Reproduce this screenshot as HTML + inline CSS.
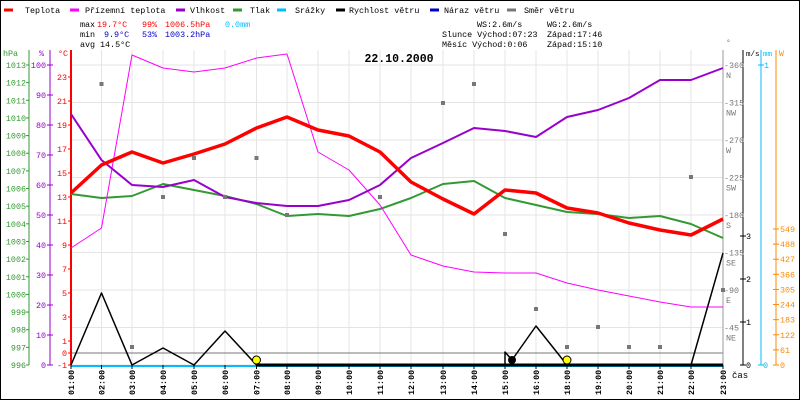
<!DOCTYPE html>
<html><head><meta charset="utf-8"><style>
html,body{margin:0;padding:0;background:#fff}
svg{display:block;font-family:"Liberation Mono","DejaVu Sans Mono",monospace}
</style></head><body>
<svg id="s" width="800" height="400" viewBox="0 0 800 400" xmlns="http://www.w3.org/2000/svg"></svg>
<script>
var s=document.getElementById('s'),h='';
function L(x1,y1,x2,y2,c,w){h+='<line x1="'+x1+'" y1="'+y1+'" x2="'+x2+'" y2="'+y2+'" stroke="'+c+'" stroke-width="'+(w||1)+'"/>';}
function T(x,y,t,c,a,sz,wt){h+='<text x="'+x+'" y="'+y+'" fill="'+(c||'#000')+'" font-size="'+(sz||8.4)+'"'+(a?' text-anchor="'+a+'"':'')+(wt?' font-weight="bold"':'')+'>'+t+'</text>';}
function P(xs,ys,c,w){var p=xs.map(function(x,i){return x+','+ys[i]}).join(' ');h+='<polyline points="'+p+'" fill="none" stroke="'+c+'" stroke-width="'+w+'" stroke-linejoin="round"/>';}
h+='<rect x="0.5" y="0.5" width="799" height="399" fill="#fff" stroke="#000"/>';
var X=[71,101.5,132,163,194,225,256.5,287,318,349,380,411,443,474,505,536,567,598,629,660,691,723];
var lab=['01','02','03','04','05','06','07','08','09','10','11','12','13','14','15','16','18','19','20','21','22','23'];
X.forEach(function(x){L(x,50,x,365,'#e4e4e4');});
for(var d=0;d<=360;d+=45){var y=365-d*300/360;L(71,y,723,y,'#e4e4e4');}
L(71,353,723,353,'#777');
var lg=[['Teplota','#f00',4,25],['Přízemní teplota','#f0f',70,85],['Vlhkost','#90c',176,190],['Tlak','#393',233,250],['Srážky','#0bf',277,295],['Rychlost větru','#000',336,349],['Náraz větru','#00c',430,444],['Směr větru','#777',507,524]];
lg.forEach(function(g){L(g[2],10,g[2]+9,10,g[1],3);T(g[3],13,g[0]);});
T(80,27,'max');T(97,27,'19.7°C','#f00');T(142,27,'99%','#f00');T(165,27,'1006.5hPa','#f00');T(225,27,'0.0mm','#0bf');
T(80,37,'min');T(104,37,'9.9°C','#00c');T(142,37,'53%','#00c');T(165,37,'1003.2hPa','#00c');
T(80,47,'avg');T(100,47,'14.5°C');
T(477,27,'WS:2.6m/s');T(547,27,'WG:2.6m/s');
T(442,37,'Slunce Východ:07:23');T(547,37,'Západ:17:46');
T(442,47,'Měsíc  Východ:0:06');T(547,47,'Západ:15:10');
T(399,62,'22.10.2000','#000','middle',11.5,1);
L(29,50,29,365,'#393');L(50,50,50,365,'#90c');L(71,50,71,365,'#f00',2);
T(3,56,'hPa','#393');T(39,56,'%','#90c');T(58,56,'°C','#f00');
for(var v=996;v<=1013;v++){var y=65+(1013-v)*300/17;T(26,y+3,v,'#393','end');L(26,y,29,y,'#393');}
for(var v=0;v<=100;v+=10){var y=365-v*3;T(46,y+3,v,'#90c','end');L(47,y,53,y,'#90c');}
[23,21,19,17,15,13,11,9,7,5,3,1,0,-1].forEach(function(v){var y=353-v*12;T(67,y+3,v,'#f00','end');L(68,y,71,y,'#f00');});
L(723,50,723,365,'#999');L(743,50,743,365,'#000');L(761,50,761,365,'#0bf');L(776,50,776,365,'#f80');
T(726,45,'°','#777',0,8);T(746,56,'m/s','#000',0,7.5);T(763,56,'mm','#0bf',0,7.5);T(779,56,'W','#f80',0,8);
[[360,'N'],[315,'NW'],[270,'W'],[225,'SW'],[180,'S'],[135,'SE'],[90,'E'],[45,'NE']].forEach(function(a){var y=365-a[0]*300/360;T(724,y+3,'-'+a[0],'#777');T(726,y+13,a[1],'#777');});
for(var v=0;v<=3;v++){var y=365-v*43;L(740,y,746,y,'#000');T(746,y+3,v,'#000');}
L(758,65,764,65,'#0bf');T(764,68,'1','#0bf');L(758,365,764,365,'#0bf');T(763,368,'0','#0bf');
for(var v=0;v<=549;v+=61){var y=365-v*136/549;L(773,y,779,y,'#f80');T(780,y+3,v,'#f80');}
P(X,[194,198,196,184,190,196,204,216,214,216,209,198,184,181,198,205,212,214,218,216,224,238],'#393',2);
P(X,[248,228,55,68,72,68,58,54,152,170,205,255,266,272,273,273,283,290,296,302,307,307],'#f0f',1);
P(X,[114,160,185,187,180,197,203,206,206,200,185,158,143,128,131,137,117,110,98,80,80,68],'#90c',2);
P(X,[193,165,152,163,154,144,128,117,130,136,152,182,199,214,190,193,208,213,223,230,235,219],'#f00',3.5);
L(71,366,723,366,'#0bf',2);
L(256,365,723,365,'#000',3);
P([71,101.5,132,163,194,225,256.5],[365,293,365,348,365,331,365],'#000',1.5);
P([505,505,512,536,567],[365,352,360,326,365],'#000',1.5);
P([691,723],[365,253],'#000',1.5);
h+='<circle cx="512" cy="360" r="4" fill="#000"/>';
[256.5,567].forEach(function(x){h+='<circle cx="'+x+'" cy="360" r="4" fill="#ff0" stroke="#000"/>';});
[[101.5,84],[132,347],[163,197],[194,158],[225,197],[256.5,158],[287,215],[380,197],[443,103],[474,84],[505,234],[536,309],[567,347],[598,327],[629,347],[660,347],[691,177],[723,290]].forEach(function(p){h+='<rect x="'+(p[0]-2)+'" y="'+(p[1]-2)+'" width="4" height="4" fill="#777"/>';});
X.forEach(function(x,i){L(x,365,x,369,'#000');h+='<text transform="translate('+(x+3)+',395) rotate(-90)" font-size="8.4" fill="#000" font-weight="bold">'+lab[i]+':00</text>';});
T(732,378,'čas','#000',0,9);
s.innerHTML=h;
</script>
</body></html>
